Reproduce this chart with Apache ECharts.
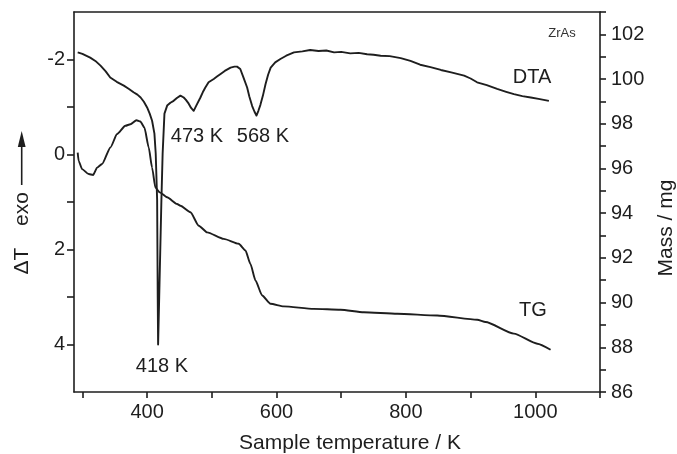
<!DOCTYPE html>
<html>
<head>
<meta charset="utf-8">
<script src="https://cdn.jsdelivr.net/npm/echarts@6/dist/echarts.min.js"></script>
<style>
html,body{margin:0;padding:0;background:#fff;}
#c{width:677px;height:454px;}
</style>
</head>
<body>
<div id="c"></div>
<script>
// ---- data ----
const dtaTemp = [292.7,300,312,320,328,336,343,353,364,372,379,385,390,395,400,404,407.7,411.3,413.3,415.5,416.4,417,418.7,422.1,424,426.8,431,436,441,446,451.5,456.6,460,464.3,468,472,476,482.4,486,490,495,498,503,508,513,520,529,535,539,544,549,554.6,558,562.4,566,569,572,575,579,583,587,591,598,606,615,627,640,652,665,677,689,700,714,727,740,750,761,775,792,807,822,838,854,870,890,900,910,925,941,955,967,980,993,1005,1013,1021];
const dtaValues = [-2.15,-2.12,-2.04,-1.97,-1.87,-1.75,-1.62,-1.53,-1.45,-1.38,-1.31,-1.26,-1.20,-1.11,-0.99,-0.86,-0.71,-0.44,-0.02,0.96,3.0,4.0,3.0,0.96,-0.02,-0.86,-1.03,-1.09,-1.13,-1.19,-1.24,-1.20,-1.15,-1.07,-0.98,-0.92,-1.03,-1.20,-1.31,-1.41,-1.52,-1.50,-1.59,-1.64,-1.69,-1.76,-1.83,-1.85,-1.85,-1.80,-1.62,-1.41,-1.22,-1.02,-0.90,-0.82,-0.92,-1.04,-1.24,-1.48,-1.68,-1.83,-1.94,-2.01,-2.08,-2.15,-2.17,-2.20,-2.18,-2.19,-2.15,-2.16,-2.13,-2.14,-2.11,-2.10,-2.08,-2.07,-2.03,-1.97,-1.89,-1.84,-1.78,-1.73,-1.66,-1.60,-1.52,-1.46,-1.38,-1.32,-1.27,-1.23,-1.20,-1.17,-1.15,-1.13];
const tgTemp = [292.7,294.2,299.5,309.7,316.5,322.7,330.4,343.3,353.6,366.4,374.2,383.5,389.6,395.8,402.5,407.7,412.8,419.5,430.9,446.4,451.5,467,479.8,492.8,518.5,541.6,552,559.7,567.5,577.8,590.7,611.2,657.6,698.9,734.9,786.6,848.4,910.3,923.1,966.9,1003.1,1023.6];
const tgValues = [96.71,96.34,95.97,95.75,95.71,96.04,96.20,96.94,97.54,97.91,97.98,98.16,98.10,97.83,96.94,96.04,95.15,94.93,94.71,94.41,94.33,94.04,93.44,93.14,92.85,92.63,92.33,91.73,90.99,90.32,89.95,89.83,89.72,89.68,89.57,89.50,89.42,89.23,89.13,88.61,88.16,87.89];
const xTickValues = [300,400,500,600,700,800,900,1000,1100];
const xLabelValues = [400,600,800,1000];
const seriesNames = ['DTA','TG'];
const annotations = ['418 K','473 K','568 K'];

const dtaData = dtaTemp.map((t,i)=>[t,dtaValues[i]]);
const tgData = tgTemp.map((t,i)=>[t,tgValues[i]]);

const FONT = '"Liberation Sans", Arial, Helvetica, sans-serif';
const INK = '#1e1e1e';
const axisLine = {show:true, onZero:false, lineStyle:{color:INK, width:1.6}};

const chart = echarts.init(document.getElementById('c'), null, {renderer:'canvas'});
chart.setOption({
  backgroundColor:'#fff',
  animation:false,
  grid:{left:74,right:77,top:12,bottom:62,containLabel:false},
  xAxis:[{
    type:'value', min:287, max:1100, position:'bottom',
    axisLine:axisLine,
    axisTick:{show:true, inside:false, length:6, lineStyle:{color:INK,width:1.6}, customValues:xTickValues},
    axisLabel:{show:true, margin:10, fontSize:20, color:INK, fontFamily:FONT, customValues:xLabelValues,
      formatter:v=>String(v)},
    splitLine:{show:false}
  },{
    type:'value', min:287, max:1100, position:'top',
    axisLine:axisLine, axisTick:{show:false}, axisLabel:{show:false}, splitLine:{show:false}
  }],
  yAxis:[{
    type:'value', inverse:true, min:-3, max:5, interval:1, position:'left',
    axisLine:axisLine,
    axisTick:{show:true, inside:false, length:7, lineStyle:{color:INK,width:1.6}},
    axisLabel:{margin:9, fontSize:20, color:INK, fontFamily:FONT,
      formatter:v=> (Math.round(v)%2===0 ? String(v) : ''), showMinLabel:false, showMaxLabel:false},
    splitLine:{show:false}
  },{
    type:'value', min:86, max:103, interval:1, position:'right',
    axisLine:axisLine,
    axisTick:{show:true, inside:false, length:6, lineStyle:{color:INK,width:1.6}},
    axisLabel:{margin:11, fontSize:20, color:INK, fontFamily:FONT,
      formatter:v=> (Math.round(v)%2===0 ? String(v) : '')},
    splitLine:{show:false}
  }],
  series:[{
    name:seriesNames[0], type:'line', xAxisIndex:0, yAxisIndex:0, data:dtaData,
    showSymbol:false, smooth:false,
    lineStyle:{color:INK, width:1.9, join:'round'}
  },{
    name:seriesNames[1], type:'line', xAxisIndex:0, yAxisIndex:1, data:tgData,
    showSymbol:false, smooth:0.2, smoothMonotone:'x',
    lineStyle:{color:INK, width:1.9}
  }],
  graphic:[
    {type:'text', x:162, y:366, style:{text:annotations[0], font:'20px '+FONT, fill:INK, textAlign:'center', textVerticalAlign:'middle'}},
    {type:'text', x:197, y:136, style:{text:annotations[1], font:'20px '+FONT, fill:INK, textAlign:'center', textVerticalAlign:'middle'}},
    {type:'text', x:263, y:136, style:{text:annotations[2], font:'20px '+FONT, fill:INK, textAlign:'center', textVerticalAlign:'middle'}},
    {type:'text', x:532, y:77, style:{text:seriesNames[0], font:'20px '+FONT, fill:INK, textAlign:'center', textVerticalAlign:'middle'}},
    {type:'text', x:533, y:310, style:{text:seriesNames[1], font:'20px '+FONT, fill:INK, textAlign:'center', textVerticalAlign:'middle'}},
    {type:'text', x:562, y:33, style:{text:'ZrAs', font:'13px '+FONT, fill:'#333', textAlign:'center', textVerticalAlign:'middle'}},
    {type:'text', x:350, y:443, style:{text:'Sample temperature / K', font:'21px '+FONT, fill:INK, textAlign:'center', textVerticalAlign:'middle'}},
    {type:'text', x:666, y:228, rotation:Math.PI/2, style:{text:'Mass / mg', font:'21px '+FONT, fill:INK, textAlign:'center', textVerticalAlign:'middle'}},
    {type:'text', x:22, y:261, rotation:Math.PI/2, style:{text:'\u0394T', font:'21px '+FONT, fill:INK, textAlign:'center', textVerticalAlign:'middle'}},
    {type:'text', x:22, y:209, rotation:Math.PI/2, style:{text:'exo', font:'21px '+FONT, fill:INK, textAlign:'center', textVerticalAlign:'middle'}},
    {type:'line', shape:{x1:21.7, y1:185, x2:21.7, y2:144}, style:{stroke:INK, lineWidth:1.6}},
    {type:'polygon', shape:{points:[[21.7,131],[17.8,147],[25.6,147]]}, style:{fill:INK}}
  ]
});
</script>
</body>
</html>
